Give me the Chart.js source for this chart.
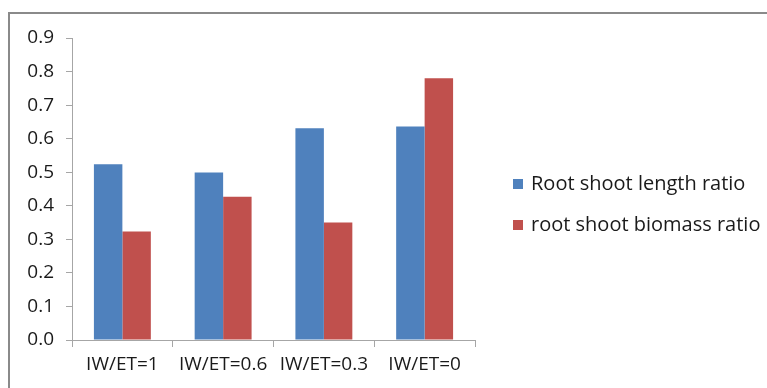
<!DOCTYPE html>
<html>
<head>
<meta charset="utf-8">
<script src="https://cdn.jsdelivr.net/npm/chart.js@4"></script>
<style>
    body { margin: 0; background: #fff; }
    .wrap { position: relative; width: 767px; height: 388px; }
    .frame {
        position: absolute;
        left: 8px;
        top: 12px;
        right: 0;
        bottom: 0;
        border-top: 2px solid #8a8a8a;
        border-left: 2px solid #8a8a8a;
        pointer-events: none;
    }
    canvas { position: absolute; left: 0; top: 0; }
</style>
</head>
<body>
<div class="wrap">
    <canvas id="chart" width="767" height="388"></canvas>
    <div class="frame"></div>
</div>
<script>
const categories = ["IW/ET=1", "IW/ET=0.6", "IW/ET=0.3", "IW/ET=0"];
const lengthRatio = [0.524, 0.499, 0.631, 0.636];
const biomassRatio = [0.323, 0.427, 0.350, 0.780];
const seriesNames = ["Root shoot length ratio", "root shoot biomass ratio"];

const axisColor = "#a6a6a6";
const textColor = "#1a1a1a";
const fontFamily = "'Open Sans', 'Liberation Sans', sans-serif";

// legend drawn at the right, next to the plot (Excel style)
const sideLegend = {
    id: "sideLegend",
    afterDraw(chart) {
        const c = chart.ctx;
        const left = chart.chartArea.right + 38;
        const rows = [184, 225];
        c.save();
        c.font = "20px " + fontFamily;
        c.textBaseline = "middle";
        chart.data.datasets.forEach((ds, i) => {
            c.fillStyle = ds.backgroundColor;
            c.fillRect(left, rows[i] - 5, 10, 10);
            c.fillStyle = textColor;
            c.fillText(ds.label, left + 18, rows[i]);
        });
        c.restore();
    }
};

const ctx = document.getElementById("chart").getContext("2d");

new Chart(ctx, {
    type: "bar",
    data: {
        labels: categories,
        datasets: [{
            label: seriesNames[0],
            data: lengthRatio,
            backgroundColor: "#4f81bd"
        }, {
            label: seriesNames[1],
            data: biomassRatio,
            backgroundColor: "#c0504d"
        }]
    },
    plugins: [sideLegend],
    options: {
        responsive: false,
        animation: false,
        categoryPercentage: 0.565,
        barPercentage: 1,
        layout: {
            padding: { top: 38, left: 0, bottom: 0, right: 292 }
        },
        plugins: {
            legend: { display: false },
            tooltip: { enabled: false }
        },
        scales: {
            x: {
                afterFit: (scale) => { scale.height = 48; },
                grid: {
                    display: true,
                    drawOnChartArea: false,
                    color: axisColor,
                    tickLength: 7
                },
                border: { color: axisColor },
                ticks: {
                    color: textColor,
                    padding: 6,
                    maxRotation: 0,
                    autoSkip: false,
                    font: { family: fontFamily, size: 19 }
                }
            },
            y: {
                min: 0,
                max: 0.9,
                afterFit: (scale) => { scale.width = 72; },
                grid: {
                    display: true,
                    drawOnChartArea: false,
                    color: axisColor,
                    tickLength: 6
                },
                border: { color: axisColor },
                ticks: {
                    stepSize: 0.1,
                    color: textColor,
                    padding: 12,
                    font: { family: fontFamily, size: 19 },
                    callback: (v) => v.toFixed(1)
                }
            }
        }
    }
});
</script>
</body>
</html>
